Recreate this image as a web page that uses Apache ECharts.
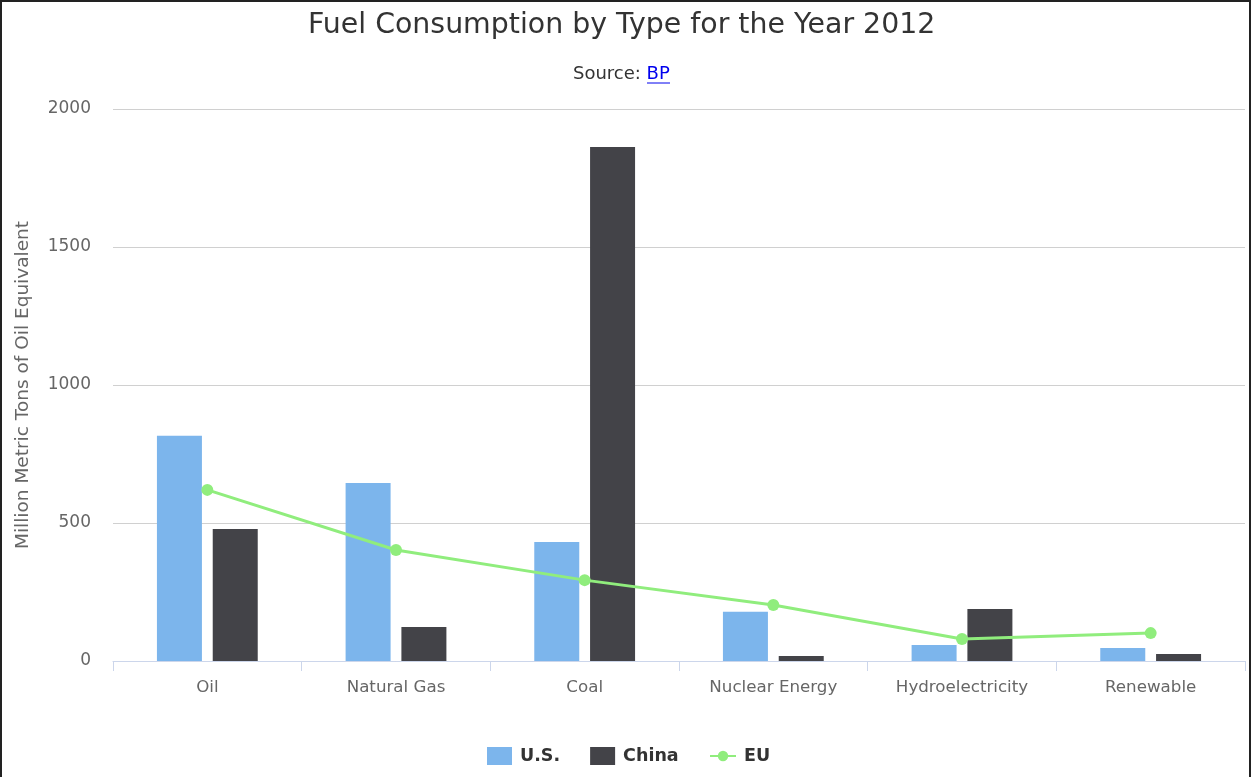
<!DOCTYPE html>
<html>
<head>
<meta charset="utf-8">
<script src="https://cdn.jsdelivr.net/npm/echarts@6/dist/echarts.min.js"></script>
<style>
html,body{margin:0;padding:0;background:#fff;}
#frame{position:absolute;left:0;top:0;width:1251px;height:790px;border:2px solid #222;box-sizing:border-box;}
#chart{position:absolute;left:0;top:0;width:1254px;height:777px;}
</style>
</head>
<body>
<div id="frame"></div>
<div id="chart"></div>
<script>
const categories = ['Oil', 'Natural Gas', 'Coal', 'Nuclear Energy', 'Hydroelectricity', 'Renewable'];
const usValues = [816, 645, 431, 178, 58, 47];
const chinaValues = [478, 123, 1862, 18, 188, 25];
const euValues = [620, 402, 293, 203, 80, 101];
const yTicks = [0, 500, 1000, 1500, 2000];

const chart = echarts.init(document.getElementById('chart'));
const font = '"DejaVu Sans", sans-serif';
chart.setOption({
  animation: false,
  textStyle: {fontFamily: font},
  title: [{
    text: 'Fuel Consumption by Type for the Year 2012',
    left: 303,
    top: 7,
    textStyle: {fontFamily: font, fontSize: 28.4, fontWeight: 'normal', color: '#333'}
  }, {
    text: 'Source: {link|BP}',
    left: 568,
    top: 60,
    textStyle: {fontFamily: font, fontSize: 18, fontWeight: 'normal', color: '#333',
      rich: {link: {fontFamily: font, fontSize: 18, color: '#0000ee'}}}
  }],
  legend: [{
    top: 747,
    left: 487,
    padding: 0,
    itemGap: 30,
    itemWidth: 25,
    itemHeight: 18,
    textStyle: {fontFamily: font, fontSize: 17.5, fontWeight: 'bold', color: '#333', padding: [0, 0, 0, 3]},
    data: [
      {name: 'U.S.', icon: 'rect'},
      {name: 'China', icon: 'rect'}
    ]
  }, {
    top: 747,
    left: 709,
    padding: 0,
    itemWidth: 26,
    itemHeight: 13,
    textStyle: {fontFamily: font, fontSize: 17.5, fontWeight: 'bold', color: '#333', padding: [0, 0, 0, 3]},
    data: [{name: 'EU'}]
  }],
  grid: {left: 113, right: 9, top: 109, bottom: 116},
  xAxis: {
    type: 'category',
    data: categories,
    axisLine: {lineStyle: {color: '#ccd6eb'}},
    axisTick: {show: true, length: 10, lineStyle: {color: '#ccd6eb'}},
    axisLabel: {fontFamily: font, fontSize: 16.7, color: '#666', margin: 18}
  },
  yAxis: {
    type: 'value',
    min: yTicks[0],
    max: yTicks[yTicks.length - 1],
    interval: 500,
    name: 'Million Metric Tons of Oil Equivalent',
    nameLocation: 'middle',
    nameGap: 80,
    nameTextStyle: {fontFamily: font, fontSize: 18.5, color: '#666'},
    axisLabel: {fontFamily: font, fontSize: 17, color: '#666', margin: 22,
      formatter: function (v) { return String(v); }},
    splitLine: {lineStyle: {color: '#d0d0d0'}},
    axisLine: {show: false},
    axisTick: {show: false}
  },
  graphic: [{
    type: 'line',
    z: 100,
    shape: {x1: 647, y1: 83, x2: 670, y2: 83},
    style: {stroke: '#0000ee', lineWidth: 1}
  }],
  series: [
    {name: 'U.S.', type: 'bar', data: usValues, barWidth: 45, barGap: '24%',
     itemStyle: {color: '#7cb5ec'}},
    {name: 'China', type: 'bar', data: chinaValues, barWidth: 45,
     itemStyle: {color: '#434348'}},
    {name: 'EU', type: 'line', data: euValues, symbol: 'circle', symbolSize: 12,
     lineStyle: {color: '#90ed7d', width: 3}, itemStyle: {color: '#90ed7d'}}
  ]
});
</script>
</body>
</html>
